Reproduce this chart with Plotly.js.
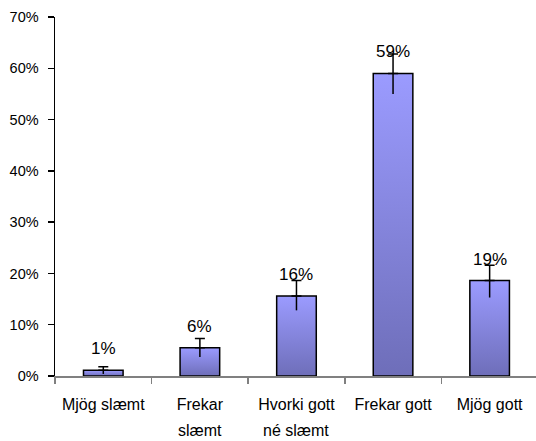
<!DOCTYPE html>
<html>
<head>
<meta charset="utf-8">
<script src="https://cdn.plot.ly/plotly-3.0.1.min.js"></script>
<style>html,body{margin:0;padding:0;background:#fff}</style>
</head>
<body>
<div id="chart" style="width:536px;height:441px"></div>
<script>
// flokkar - fyrsta og önnur lína merkinga
var catLine1 = ["Mjög slæmt", "Frekar", "Hvorki gott", "Frekar gott", "Mjög gott"];
var catLine2 = ["", "slæmt", "né slæmt", "", ""];
// hlutföll í % og skekkjumörk
var values = [1.1, 5.5, 15.6, 59.0, 18.6];
var errPlus = [0.7, 1.8, 3.0, 3.8, 3.0];
var errMinus = [0.7, 1.8, 2.8, 4.0, 3.3];
var valueLabels = ["1%", "6%", "16%", "59%", "19%"];
var yTickVals = [0, 10, 20, 30, 40, 50, 60, 70];
var yTickText = ["0%", "10%", "20%", "30%", "40%", "50%", "60%", "70%"];

var font = "Liberation Sans, Arial, sans-serif";

var bars = {
  x: catLine1, y: values, type: "bar", width: 0.41,
  marker: {color: "#8484e0", line: {color: "#000000", width: 1.5}},
  hoverinfo: "none"
};
// efri skekkja með loki, neðri án
var errUp = {
  x: catLine1, y: values, type: "scatter", mode: "markers",
  marker: {opacity: 0, size: 1},
  error_y: {type: "data", symmetric: false, array: errPlus,
    arrayminus: values.map(function() { return 0; }),
    color: "#000000", thickness: 1.5, width: 5}
};
var errDown = {
  x: catLine1, y: values, type: "scatter", mode: "markers",
  marker: {opacity: 0, size: 1},
  error_y: {type: "data", symmetric: false, array: values.map(function() { return 0; }),
    arrayminus: errMinus, color: "#000000", thickness: 1.5, width: 0}
};

var annotations = [];
for (var i = 0; i < catLine1.length; i++) {
  annotations.push({
    x: catLine1[i], y: values[i], xref: "x", yref: "y",
    text: valueLabels[i], showarrow: false, yanchor: "bottom", yshift: 10,
    font: {family: font, size: 17, color: "#000000"}
  });
  if (catLine2[i] !== "") {
    annotations.push({
      x: catLine1[i], y: 0, xref: "x", yref: "paper",
      text: catLine2[i], showarrow: false, yanchor: "top", yshift: -44,
      font: {family: font, size: 16, color: "#000000"}
    });
  }
}

var layout = {
  width: 536, height: 441,
  margin: {l: 55, r: 0, t: 17, b: 65},
  paper_bgcolor: "#ffffff", plot_bgcolor: "#ffffff",
  showlegend: false,
  font: {family: font, color: "#000000"},
  xaxis: {
    type: "category", range: [-0.5, 4.48],
    showline: true, linecolor: "#808080", linewidth: 1.5,
    ticks: "outside", tickson: "boundaries", ticklen: 6, tickcolor: "#808080", tickwidth: 1.5,
    showgrid: false, zeroline: false, ticklabelstandoff: 13,
    tickfont: {family: font, size: 16, color: "#000000"}
  },
  yaxis: {
    range: [0, 70], tickvals: yTickVals, ticktext: yTickText,
    showline: true, linecolor: "#000000", linewidth: 1.5,
    ticks: "outside", ticklen: 6, tickcolor: "#000000", tickwidth: 1.5,
    showgrid: false, zeroline: false, ticklabelstandoff: 6,
    tickfont: {family: font, size: 14.5, color: "#000000"}
  },
  annotations: annotations
};

Plotly.newPlot("chart", [bars, errUp, errDown], layout, {staticPlot: true}).then(function(gd) {
  // litastigull í súlunum eins og í upprunalega grafinu
  var svg = gd.querySelector(".main-svg");
  var ns = "http://www.w3.org/2000/svg";
  var defs = document.createElementNS(ns, "defs");
  var grad = document.createElementNS(ns, "linearGradient");
  grad.setAttribute("id", "barGrad");
  grad.setAttribute("x1", "0"); grad.setAttribute("y1", "0");
  grad.setAttribute("x2", "0"); grad.setAttribute("y2", "1");
  [["0", "#9b9bff"], ["1", "#6e6eb9"]].forEach(function(s) {
    var stop = document.createElementNS(ns, "stop");
    stop.setAttribute("offset", s[0]);
    stop.setAttribute("stop-color", s[1]);
    grad.appendChild(stop);
  });
  defs.appendChild(grad);
  svg.insertBefore(defs, svg.firstChild);
  gd.querySelectorAll(".bars .point path").forEach(function(p) {
    p.style.fill = "url(#barGrad)";
  });
});
</script>
</body>
</html>
